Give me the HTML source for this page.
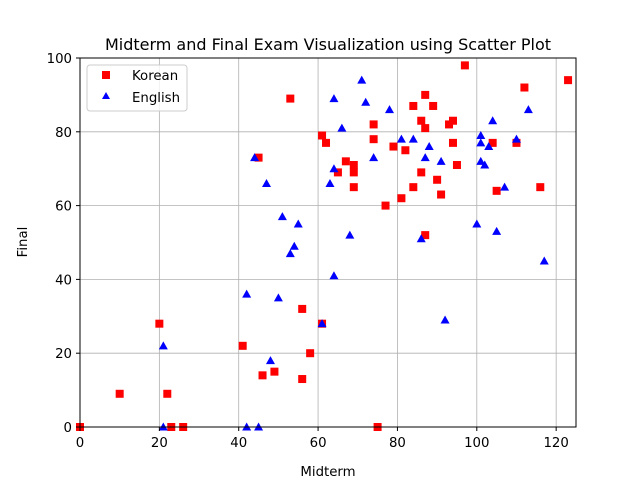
<!DOCTYPE html>
<html><head><meta charset="utf-8"><style>
body{margin:0;background:#fff}
svg{display:block;font-family:"DejaVu Sans","Liberation Sans",sans-serif}
</style></head><body>
<svg id="chart" width="640" height="480" xmlns="http://www.w3.org/2000/svg">
<rect width="640" height="480" fill="#fff"/>
<g id="grid"></g>
<g id="marks"></g>
<rect x="80" y="58" width="496" height="369" fill="none" stroke="#000" stroke-width="1"/>
<g id="ticks"></g>
<text x="328" y="50" font-size="16" text-anchor="middle">Midterm and Final Exam Visualization using Scatter Plot</text>
<text x="328" y="476" font-size="13.3" text-anchor="middle">Midterm</text>
<text transform="translate(27,242) rotate(-90)" font-size="13.3" text-anchor="middle">Final</text>
<g>
<rect x="87" y="65" width="100" height="46" rx="3" fill="#fff" fill-opacity="0.8" stroke="#ccc"/>
<rect x="102" y="71" width="8" height="8" fill="red"/>
<text x="132" y="80" font-size="13.3">Korean</text>
<polygon points="106,92 110,99 102,99" fill="blue"/>
<text x="132" y="102" font-size="13.3">English</text>
</g>
</svg>
<script>
const xTicks=[0,20,40,60,80,100,120];
const yTicks=[0,20,40,60,80,100];
const korMid=[0,10,20,22,23,26,41,45,46,49,53,56,56,58,61,61,62,65,67,69,69,69,74,74,77,79,81,82,84,84,86,86,87,87,87,89,90,91,93,94,94,95,97,104,105,110,112,116,123,75];
const korFin=[0,9,28,9,0,0,22,73,14,15,89,32,13,20,79,28,77,69,72,71,69,65,82,78,60,76,62,75,87,65,69,83,81,90,52,87,67,63,82,83,77,71,98,77,64,77,92,65,94,0];
const engMid=[21,42,45,21,42,44,47,48,50,51,53,54,55,61,63,64,64,64,66,68,71,72,74,78,81,84,87,88,86,91,92,100,101,101,101,102,103,104,105,107,110,113,117];
const engFin=[0,0,0,22,36,73,66,18,35,57,47,49,55,28,66,89,70,41,81,52,94,88,73,86,78,78,73,76,51,72,29,55,79,77,72,71,76,83,53,65,78,86,45];
const NS="http://www.w3.org/2000/svg";
const X=v=>80+v*496/125, Y=v=>427-v*369/100;
const grid=document.getElementById('grid'),ticks=document.getElementById('ticks'),marks=document.getElementById('marks');
function mk(tag,at,par){const e=document.createElementNS(NS,tag);for(const k in at)e.setAttribute(k,at[k]);par.appendChild(e);return e;}
xTicks.forEach(t=>{
 const g=mk('line',{x1:X(t),x2:X(t),y1:58,y2:427,stroke:'#b0b0b0','stroke-width':0.8},grid);
 
 
 mk('line',{x1:X(t),x2:X(t),y1:427,y2:431,stroke:'#000'},ticks);
 const tx=mk('text',{x:X(t),y:447,'font-size':13.3,'text-anchor':'middle'},ticks);tx.textContent=t;
 
 
});
yTicks.forEach(t=>{
 const g=mk('line',{x1:80,x2:576,y1:Y(t),y2:Y(t),stroke:'#b0b0b0','stroke-width':0.8},grid);
 
 
 mk('line',{x1:76,x2:80,y1:Y(t),y2:Y(t),stroke:'#000'},ticks);
 const tx=mk('text',{x:72,y:Y(t)+5,'font-size':13.3,'text-anchor':'end'},ticks);tx.textContent=t;
 
 
});
korMid.forEach((m,i)=>{
 const r=mk('rect',{x:X(m)-4,y:Y(korFin[i])-4,width:8,height:8,fill:'red'},marks);
 
 
});
engMid.forEach((m,i)=>{
 const x=X(m),y=Y(engFin[i]);
 const p=mk('polygon',{points:`${x},${y-4.5} ${x+4.5},${y+3.5} ${x-4.5},${y+3.5}`,fill:'blue'},marks);
 
 
});
</script>
</body></html>
